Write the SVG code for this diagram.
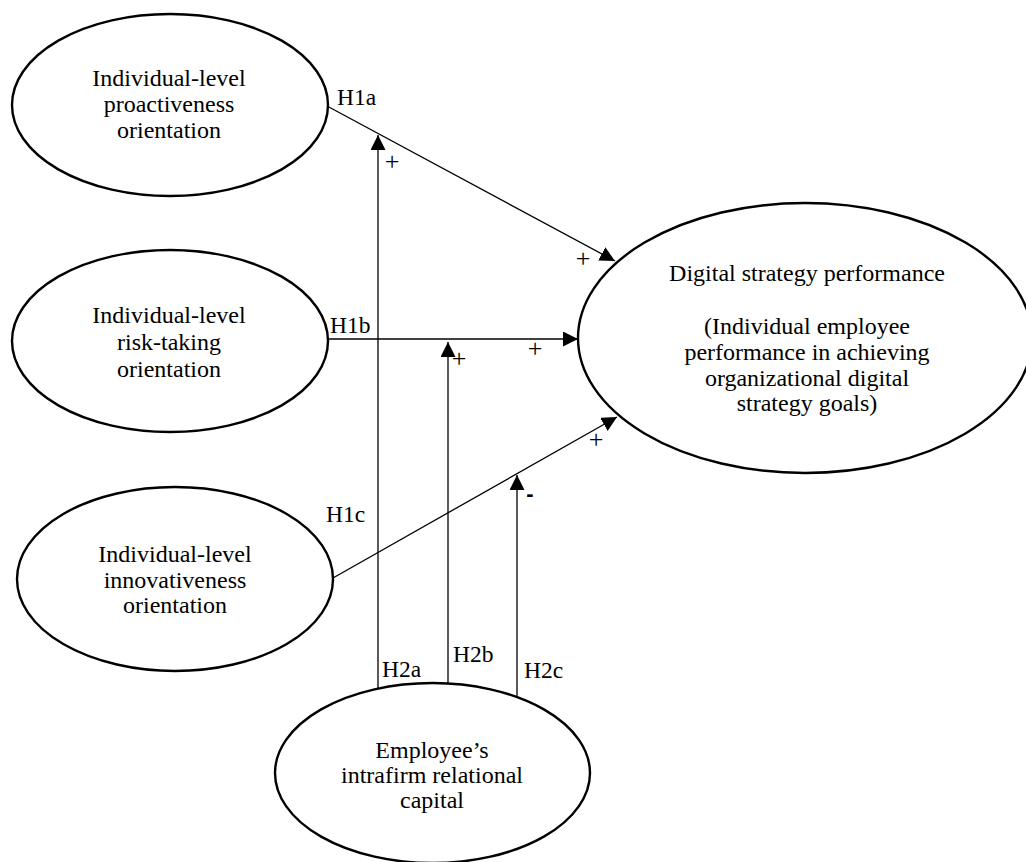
<svg xmlns="http://www.w3.org/2000/svg" width="1026" height="862" viewBox="0 0 1026 862">
<style>
.node{fill:#fff;stroke:#000;stroke-width:2.4}
.t{font-family:"Liberation Serif","Times New Roman",serif;font-size:24px;fill:#000;text-anchor:middle}
.lbl{font-family:"Liberation Serif","Times New Roman",serif;font-size:23.5px;fill:#000}
.sign{font-family:"Liberation Serif","Times New Roman",serif;font-size:26px;fill:#000;text-anchor:middle}
.minus{font-family:"Liberation Sans",Arial,sans-serif;font-size:22px;font-weight:bold;fill:#000;text-anchor:middle}
.c{stroke:#000;stroke-width:1.3;fill:none}
</style>
<defs>
<marker id="ah" markerUnits="userSpaceOnUse" markerWidth="15" markerHeight="15" refX="15" refY="7.5" orient="auto" viewBox="0 0 15 15">
<path d="M0,0 L15,7.5 L0,15 z" fill="#000"/>
</marker>
</defs>
<rect width="1026" height="862" fill="#fff"/>
<g id="connectors">
<line class="c" x1="327" y1="106" x2="615" y2="261" marker-end="url(#ah)"/>
<line class="c" x1="327" y1="339" x2="578" y2="339" marker-end="url(#ah)"/>
<line class="c" x1="333" y1="578" x2="617" y2="417" marker-end="url(#ah)"/>
<line class="c" x1="378" y1="688" x2="378" y2="135" marker-end="url(#ah)"/>
<line class="c" x1="448" y1="683" x2="448" y2="342" marker-end="url(#ah)"/>
<line class="c" x1="517" y1="697" x2="517" y2="475" marker-end="url(#ah)"/>
<text class="lbl" x="337" y="105">H1a</text>
<text class="lbl" x="330" y="333">H1b</text>
<text class="lbl" x="326" y="522">H1c</text>
<text class="lbl" x="382" y="677">H2a</text>
<text class="lbl" x="453" y="662">H2b</text>
<text class="lbl" x="524" y="678">H2c</text>
<text class="sign" x="392" y="170">+</text>
<text class="sign" x="583" y="267">+</text>
<text class="sign" x="459" y="367">+</text>
<text class="sign" x="535" y="357">+</text>
<text class="sign" x="596" y="448">+</text>
<text class="minus" x="530" y="501">-</text>
</g>
<g id="n1">
<ellipse class="node" cx="170" cy="105" rx="158" ry="91"/>
<text class="t" x="169" y="86">Individual-level</text>
<text class="t" x="169" y="112">proactiveness</text>
<text class="t" x="169" y="138">orientation</text>
</g>
<g id="n2">
<ellipse class="node" cx="170" cy="341" rx="158" ry="91"/>
<text class="t" x="169" y="323">Individual-level</text>
<text class="t" x="169" y="350">risk-taking</text>
<text class="t" x="169" y="377">orientation</text>
</g>
<g id="n3">
<ellipse class="node" cx="175" cy="579" rx="158" ry="92"/>
<text class="t" x="175" y="562">Individual-level</text>
<text class="t" x="175" y="588">innovativeness</text>
<text class="t" x="175" y="613">orientation</text>
</g>
<g id="n4">
<ellipse class="node" cx="805" cy="338" rx="227" ry="135"/>
<text class="t" x="807" y="281">Digital strategy performance</text>
<text class="t" x="807" y="334">(Individual employee</text>
<text class="t" x="807" y="360">performance in achieving</text>
<text class="t" x="807" y="386">organizational digital</text>
<text class="t" x="807" y="411">strategy goals)</text>
</g>
<g id="n5">
<ellipse class="node" cx="432.5" cy="773" rx="157.5" ry="90"/>
<text class="t" x="432" y="758">Employee’s</text>
<text class="t" x="432" y="783">intrafirm relational</text>
<text class="t" x="432" y="808">capital</text>
</g>
</svg>
